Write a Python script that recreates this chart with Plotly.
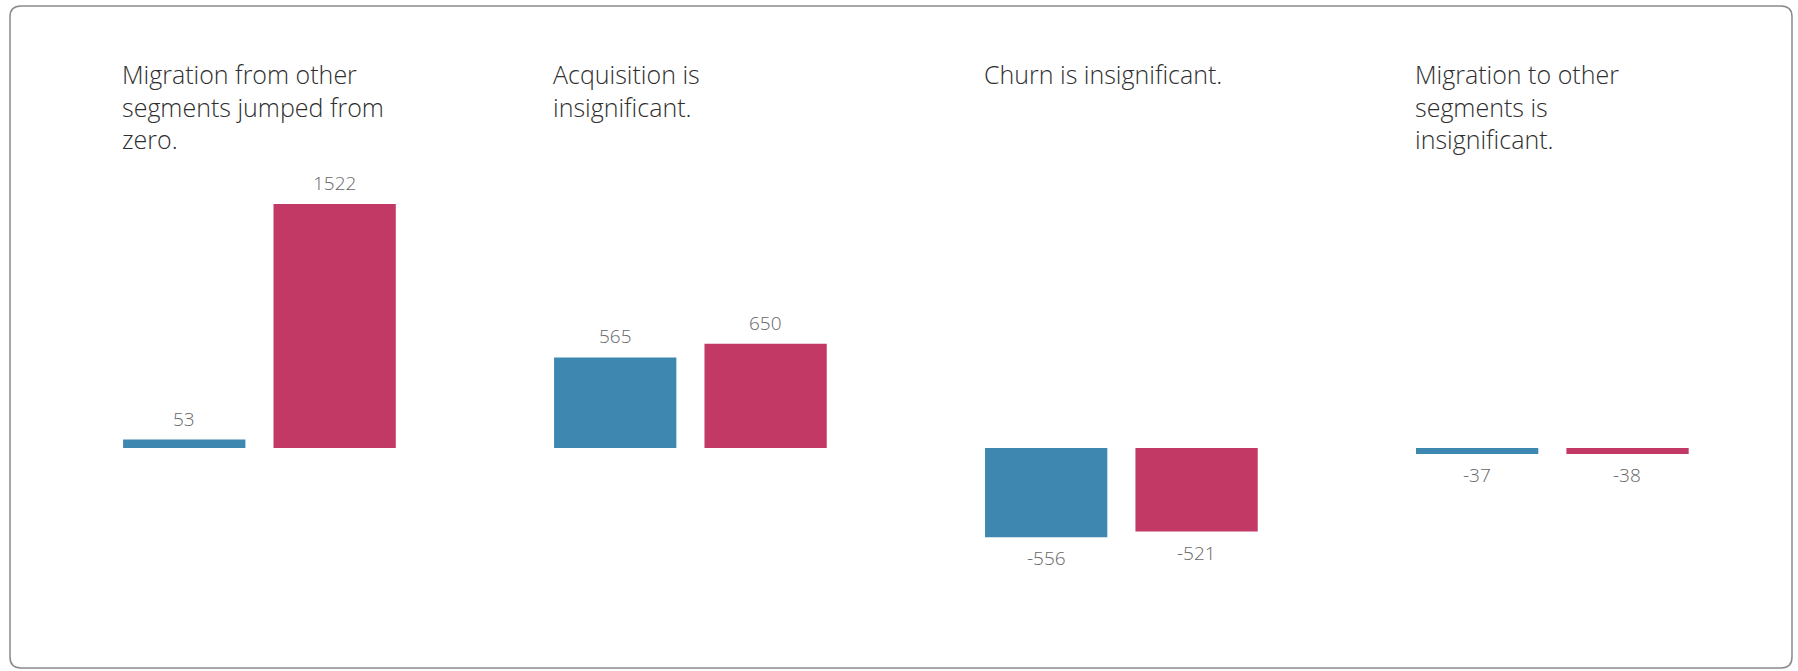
import plotly.graph_objects as go

categories = ["Migration from", "Acquisition", "Churn", "Migration to"]
titles = [
    "Migration from other<br>segments jumped from<br>zero.",
    "Acquisition is<br>insignificant.",
    "Churn is insignificant.",
    "Migration to other<br>segments is<br>insignificant.",
]
before_values = [53, 565, -556, -37]
after_values = [1522, 650, -521, -38]

BLUE = "#3D87B0"
PINK = "#C23965"
W, H = 1798, 671

fig = go.Figure()
fig.add_trace(go.Bar(x=categories, y=before_values, marker=dict(color=BLUE, line=dict(width=0)),
                     name="Before", hoverinfo="skip"))
fig.add_trace(go.Bar(x=categories, y=after_values, marker=dict(color=PINK, line=dict(width=0)),
                     name="After", hoverinfo="skip"))

annotations = []
for cat, t in zip(categories, titles):
    annotations.append(dict(x=cat, xref="x", xshift=-138, xanchor="left",
                            y=1 - 56 / H, yref="paper", yanchor="top", align="left",
                            text=t, showarrow=False, borderpad=0,
                            font=dict(family="Open Sans", size=25, weight=300, color="#2E2E2E")))
for vals, shift in ((before_values, -75), (after_values, 75)):
    for cat, v in zip(categories, vals):
        annotations.append(dict(x=cat, xref="x", xshift=shift, y=v, yref="y",
                                yshift=21 if v >= 0 else -21, yanchor="middle",
                                text=str(v), showarrow=False,
                                font=dict(family="Open Sans", size=19, weight=300, color="#666666")))

# rounded border
l, r, t, b = 10 / W, 1792 / W, 1 - 6 / H, 1 - 668 / H
rx, ry = 11 / W, 11 / H
path = (f"M {l+rx},{t} L {r-rx},{t} Q {r},{t} {r},{t-ry} L {r},{b+ry} Q {r},{b} {r-rx},{b} "
        f"L {l+rx},{b} Q {l},{b} {l},{b+ry} L {l},{t-ry} Q {l},{t} {l+rx},{t} Z")

fig.update_layout(
    width=W, height=H,
    margin=dict(l=0, r=0, t=0, b=0),
    paper_bgcolor="white", plot_bgcolor="white",
    barmode="group", bargap=0.302, bargroupgap=0.187,
    showlegend=False,
    xaxis=dict(range=[-0.602, 3.570], visible=False),
    yaxis=dict(range=[-1391, 2795], visible=False),
    annotations=annotations,
    shapes=[dict(type="path", path=path, xref="paper", yref="paper",
                 line=dict(color="#8A8A8A", width=1.5), layer="above")],
)

fig.write_html("out.html", config={"displayModeBar": False},
               post_script="document.body.style.margin='0';")
